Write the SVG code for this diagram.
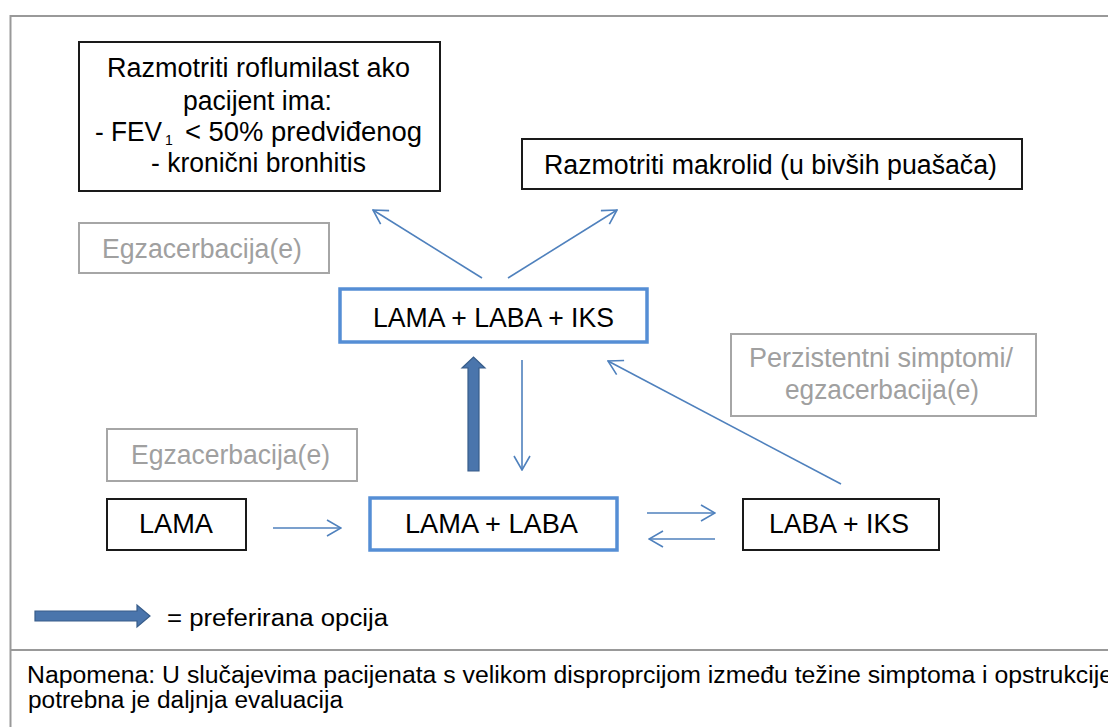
<svg xmlns="http://www.w3.org/2000/svg" width="1108" height="727" viewBox="0 0 1108 727">
<style>
text{font-family:"Liberation Sans",Arial,sans-serif;}
.t{font-size:27px;fill:#000;}
.g{font-size:27px;fill:#a0a0a0;}
.n{font-size:23px;fill:#000;}
.bk{fill:#fff;stroke:#1a1a1a;stroke-width:2;}
.bl{fill:#fff;stroke:#558ED5;stroke-width:3.5;}
.gr{fill:#fff;stroke:#a6a6a6;stroke-width:2;}
.c{stroke:#4F81BD;stroke-width:1.6;fill:none;marker-end:url(#ah);}
.thick{fill:#4A75AC;stroke:#385D8A;stroke-width:1.2;}
.frame{stroke:#999;stroke-width:2;fill:none;}
</style>
<defs>
<marker id="ah" viewBox="0 0 16 18" refX="15" refY="9" markerWidth="16" markerHeight="18" markerUnits="userSpaceOnUse" orient="auto">
<path d="M1,1 L15,9 L1,17" fill="none" stroke="#4F81BD" stroke-width="1.6"/>
</marker>
</defs>
<rect width="1108" height="727" fill="#fff"/>
<g id="frame">
<path class="frame" d="M10.5,727 L10.5,16 L1108,16"/>
<path class="frame" d="M10,650 L1108,650" stroke="#888"/>
</g>
<g id="connectors">
<line class="c" x1="482" y1="278" x2="373" y2="210"/>
<line class="c" x1="508" y1="278" x2="617" y2="210"/>
<polygon class="thick" points="468,471 479,471 479,368 485,368 473.5,357 462,368 468,368"/>
<line class="c" x1="522" y1="360" x2="522" y2="470"/>
<line class="c" x1="273" y1="528" x2="341" y2="528"/>
<line class="c" x1="647" y1="513" x2="715" y2="513"/>
<line class="c" x1="715" y1="539" x2="649" y2="539"/>
<line class="c" x1="841" y1="484" x2="608" y2="361"/>
</g>
<g id="roflumilast">
<rect class="bk" x="79" y="42" width="361" height="149"/>
<text class="t" x="258.5" y="77" text-anchor="middle" textLength="303" lengthAdjust="spacingAndGlyphs">Razmotriti roflumilast ako</text>
<text class="t" x="257.5" y="110" text-anchor="middle" textLength="149" lengthAdjust="spacingAndGlyphs">pacijent ima:</text>
<text class="t" x="95" y="141" textLength="67" lengthAdjust="spacingAndGlyphs">- FEV</text>
<text class="t" x="165" y="145" style="font-size:14px">1</text>
<text class="t" x="185" y="141" textLength="237" lengthAdjust="spacingAndGlyphs">&lt; 50% predviđenog</text>
<text class="t" x="258.5" y="172" text-anchor="middle" textLength="215" lengthAdjust="spacingAndGlyphs">- kronični bronhitis</text>
</g>
<g id="makrolid">
<rect class="bk" x="522" y="139" width="500" height="50"/>
<text class="t" x="770.5" y="174" text-anchor="middle" textLength="453" lengthAdjust="spacingAndGlyphs">Razmotriti makrolid (u bivših puašača)</text>
</g>
<g id="egz1">
<rect class="gr" x="79" y="223" width="250" height="50"/>
<text class="g" x="202" y="258" text-anchor="middle" textLength="200" lengthAdjust="spacingAndGlyphs">Egzacerbacija(e)</text>
</g>
<g id="lama-laba-iks">
<rect class="bl" x="340" y="289" width="307" height="53"/>
<text class="t" x="493.5" y="327" text-anchor="middle" textLength="241" lengthAdjust="spacingAndGlyphs">LAMA + LABA + IKS</text>
</g>
<g id="perzistentni">
<rect class="gr" x="731" y="334" width="305" height="82"/>
<text class="g" x="881" y="367" text-anchor="middle" textLength="264" lengthAdjust="spacingAndGlyphs">Perzistentni simptomi/</text>
<text class="g" x="882" y="399" text-anchor="middle" textLength="194" lengthAdjust="spacingAndGlyphs">egzacerbacija(e)</text>
</g>
<g id="egz2">
<rect class="gr" x="107" y="429" width="250" height="52"/>
<text class="g" x="230.5" y="464" text-anchor="middle" textLength="199" lengthAdjust="spacingAndGlyphs">Egzacerbacija(e)</text>
</g>
<g id="lama">
<rect class="bk" x="107" y="499" width="139" height="51"/>
<text class="t" x="176" y="533" text-anchor="middle" textLength="74" lengthAdjust="spacingAndGlyphs">LAMA</text>
</g>
<g id="lama-laba">
<rect class="bl" x="370" y="498" width="247" height="52"/>
<text class="t" x="491.5" y="533" text-anchor="middle" textLength="173" lengthAdjust="spacingAndGlyphs">LAMA + LABA</text>
</g>
<g id="laba-iks">
<rect class="bk" x="743" y="499" width="196" height="51"/>
<text class="t" x="839" y="533" text-anchor="middle" textLength="140" lengthAdjust="spacingAndGlyphs">LABA + IKS</text>
</g>
<g id="legend">
<polygon class="thick" points="35,611 137,611 137,605 150,616 137,627 137,621 35,621"/>
<text class="n" x="167" y="626" textLength="221" lengthAdjust="spacingAndGlyphs">=  preferirana opcija</text>
</g>
<g id="note">
<text class="n" x="27" y="683" textLength="1086" lengthAdjust="spacingAndGlyphs">Napomena:  U slučajevima pacijenata s velikom disproprcijom  između težine simptoma i opstrukcije</text>
<text class="n" x="28" y="708" textLength="315" lengthAdjust="spacingAndGlyphs">potrebna je daljnja evaluacija</text>
</g>
</svg>
